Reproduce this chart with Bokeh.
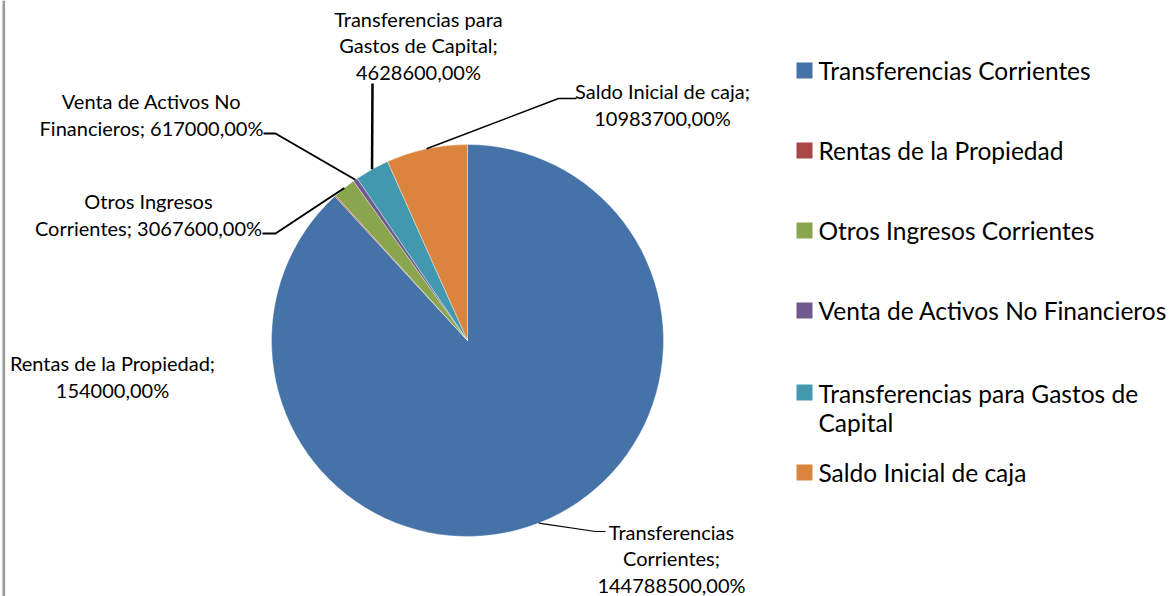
import math
from bokeh.plotting import figure
from bokeh.models import Range1d, Span
from bokeh.core.properties import value
from bokeh.embed import file_html
from bokeh.resources import INLINE

# ---- data ----
categories = ["Transferencias Corrientes", "Rentas de la Propiedad", "Otros Ingresos Corrientes",
              "Venta de Activos No Financieros", "Transferencias para Gastos de Capital",
              "Saldo Inicial de caja"]
values = [144788500, 154000, 3067600, 617000, 4628600, 10983700]
colors = ["#4572A7", "#AA4643", "#89A54E", "#71588F", "#4198AF", "#DB843D"]
label_templates = ["Transferencias\nCorrientes;\n{v},00%",
                   "Rentas de la Propiedad;\n{v},00%",
                   "Otros Ingresos\nCorrientes; {v},00%",
                   "Venta de Activos No\nFinancieros; {v},00%",
                   "Transferencias para\nGastos de Capital;\n{v},00%",
                   "Saldo Inicial de caja;\n{v},00%"]
legend_texts = ["Transferencias Corrientes", "Rentas de la Propiedad", "Otros Ingresos Corrientes",
                "Venta de Activos No Financieros", "Transferencias para Gastos de\nCapital",
                "Saldo Inicial de caja"]

W, H = 1172, 596
FONT = "Lato"

def X(rx):
    return rx

def Y(ry):
    return H - ry

p = figure(width=W, height=H, output_backend="svg", toolbar_location=None,
           x_range=Range1d(0, W), y_range=Range1d(0, H), min_border=0)
p.axis.visible = False
p.grid.visible = False
p.outline_line_color = None
p.background_fill_color = "white"

# left border
p.add_layout(Span(location=3.3, dimension="height", line_color="#9a9a9a", line_width=2.6))

# pie
cx, cy, r = X(467), Y(340), 196
total = float(sum(values))
cum = 0.0
starts, ends, mids = [], [], []
for v in values:
    a0 = math.pi / 2 - 2 * math.pi * cum / total
    cum += v
    a1 = math.pi / 2 - 2 * math.pi * cum / total
    starts.append(a0)
    ends.append(a1)
    mids.append((a0 + a1) / 2)

p.wedge(x=[cx] * len(values), y=[cy] * len(values), radius=r, start_angle=starts, end_angle=ends,
        direction="clock", fill_color=colors, line_color="white", line_width=0.6, line_alpha=0.6)

# leader lines (elbow, end) in reference pixel coords; None = no leader
leaders = [((595, 531), (605, 531)), None, ((275, 233), (262, 233)), ((275, 133), (263, 133)),
           (None, (372, 83)), ((558, 98), (576, 98))]
leader_widths = [1.2, 0, 2, 2, 2.5, 1.6]
for i, ld in enumerate(leaders):
    if ld is None:
        continue
    ax_ = cx + r * math.cos(mids[i])
    ay_ = cy + r * math.sin(mids[i])
    xs, ys = [ax_], [ay_]
    elbow, end = ld
    if elbow is not None:
        xs.append(X(elbow[0])); ys.append(Y(elbow[1]))
    xs.append(X(end[0])); ys.append(Y(end[1]))
    p.line(xs, ys, line_color="black", line_width=leader_widths[i])

# data labels
label_pos = [(671, 558), (112, 376), (148, 214), (151, 114), (418, 45), (662, 104)]
for i, t in enumerate(label_templates):
    p.text(x=[X(label_pos[i][0])], y=[Y(label_pos[i][1])], text=[t.format(v=values[i])],
           text_align="center", text_baseline="middle", text_font=value(FONT),
           text_font_size="20px", text_color="#000000", text_line_height=1.12)

# legend
leg_y = [70, 150, 230, 310, 392, 472]
for i, t in enumerate(legend_texts):
    p.scatter(x=[X(804)], y=[Y(leg_y[i])], marker="square", size=16, fill_color=colors[i],
              line_color=None)
    if "\n" in t:
        p.text(x=[X(818)], y=[Y(leg_y[i] + 15)], text=[t], text_align="left", text_baseline="middle",
               text_font=value(FONT), text_font_size="24.5px", text_color="#000000",
               text_line_height=1.0)
    else:
        p.text(x=[X(818)], y=[Y(leg_y[i])], text=[t], text_align="left", text_baseline="middle",
               text_font=value(FONT), text_font_size="24.5px", text_color="#000000")

open("out.html", "w").write(file_html(p, INLINE))
